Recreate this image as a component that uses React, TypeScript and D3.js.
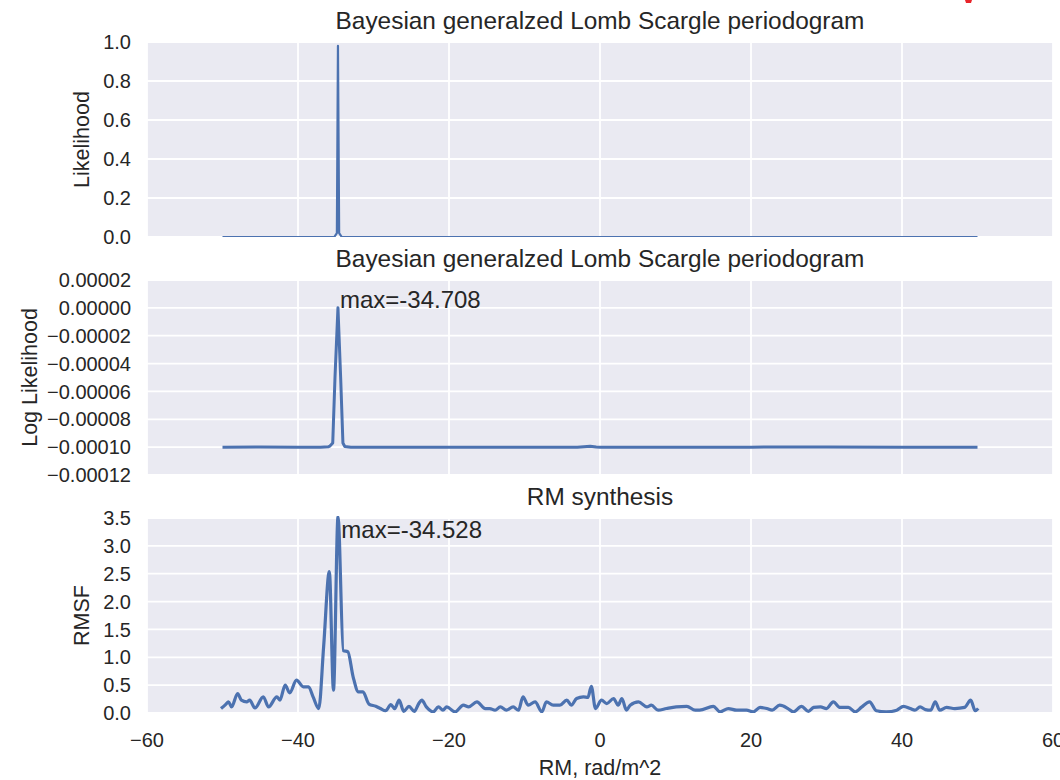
import React from "react";
import * as d3 from "d3";

// ---------- data ----------
const xTicks = [-60, -40, -20, 0, 20, 40, 60];

const likeX = [-50, -40, -36, -35.2, -34.85, -34.708, -34.55, -34.2, -30, -10, 0, 10, 30, 50];
const likeY = [0, 0, 0, 0, 0.02, 0.98, 0.02, 0, 0, 0, 0, 0, 0, 0];
const likeTicks = [0, 0.2, 0.4, 0.6, 0.8, 1.0];

const logX = [-50, -45, -40, -37, -36, -35.8, -35.4, -35.1, -34.708, -34.35, -34.05, -33.8, -33, -25, -10, -3, -1.3, -0.5, 0, 10, 20, 30, 40, 50];
const logY = [-1.0e-4, -0.9995e-4, -1.0e-4, -1.0e-4, -0.998e-4, -0.993e-4, -0.97e-4, -0.5e-4, 0, -0.5e-4, -0.97e-4, -0.995e-4, -1.0e-4, -1.0e-4, -1.0e-4, -1.0e-4, -0.993e-4, -0.999e-4, -1.0e-4, -1.0e-4, -1.0e-4, -0.999e-4, -1.0e-4, -1.0e-4];
const logTicks = [-0.00012, -0.0001, -0.00008, -0.00006, -0.00004, -0.00002, 0, 0.00002];
const logTickLabels = ["−0.00012", "−0.00010", "−0.00008", "−0.00006", "−0.00004", "−0.00002", "0.00000", "0.00002"];

const rmX = [
  -50.2, -49.6, -49.2, -48.8, -48.0, -47.5, -46.8, -46.4, -45.7, -44.6, -43.9, -42.8, -42.4, -41.7, -41.1,
  -40.2, -39.3, -38.6, -38.0, -37.25, -36.6, -35.85, -35.3, -34.7, -34.0, -33.4, -32.7, -32.0, -31.4, -30.6,
  -29.7, -29.1, -28.4, -27.7, -27.2, -26.6, -26.0, -25.3, -24.6, -24.0, -23.6, -23.0, -22.1, -21.4, -20.8,
  -20.3, -19.2, -18.1, -17.4, -16.3, -15.2, -14.6, -13.9, -13.2, -12.4, -11.5, -10.8, -10.2, -9.5, -8.6,
  -7.7, -7.1, -6.2, -5.3, -4.4, -3.8, -3.1, -2.2, -1.6, -1.15, -0.6, 0.2, 0.9, 1.8, 2.4,
  2.9, 3.5, 4.0, 5.1, 6.2, 6.8, 7.7, 8.8, 10.1, 11.5, 12.6, 13.2, 15.0, 15.9, 17.0,
  18.1, 19.4, 20.3, 21.2, 22.1, 22.8, 23.8, 24.9, 25.6, 26.7, 27.6, 28.3, 29.2, 30.0, 30.9,
  31.8, 32.9, 33.8, 34.6, 35.7, 36.6, 37.9, 39.3, 40.2, 41.1, 41.7, 42.4, 43.1, 43.8, 44.4,
  45.0, 45.9, 47.0, 48.3, 49.1, 49.7, 50.1,
];
const rmsf = [
  0.08, 0.15, 0.2, 0.11, 0.35, 0.23, 0.2, 0.23, 0.09, 0.29, 0.11, 0.29, 0.23, 0.5, 0.36,
  0.59, 0.47, 0.47, 0.29, 0.08, 1.2, 2.54, 0.41, 3.52, 1.12, 1.1, 0.65, 0.38, 0.38, 0.16,
  0.12, 0.08, 0.04, 0.15, 0.08, 0.23, 0.03, 0.12, 0.03, 0.17, 0.23, 0.11, 0.02, 0.11, 0.05,
  0.11, 0.02, 0.14, 0.11, 0.2, 0.08, 0.08, 0.05, 0.11, 0.05, 0.11, 0.05, 0.29, 0.14, 0.2,
  0.02, 0.2, 0.14, 0.14, 0.23, 0.14, 0.26, 0.29, 0.28, 0.48, 0.08, 0.23, 0.17, 0.26, 0.14,
  0.26, 0.05, 0.14, 0.2, 0.11, 0.14, 0.05, 0.08, 0.11, 0.12, 0.05, 0.05, 0.12, 0.02, 0.08,
  0.05, 0.05, 0.02, 0.1, 0.08, 0.05, 0.14, 0.08, 0.02, 0.12, 0.03, 0.1, 0.11, 0.08, 0.2,
  0.1, 0.1, 0.02, 0.1, 0.2, 0.04, 0.02, 0.05, 0.12, 0.08, 0.05, 0.11, 0.06, 0.05, 0.2,
  0.05, 0.1, 0.08, 0.1, 0.23, 0.04, 0.08,
];
const rmTicks = [0, 0.5, 1.0, 1.5, 2.0, 2.5, 3.0, 3.5];

const titles = [
  "Bayesian generalzed Lomb Scargle periodogram",
  "Bayesian generalzed Lomb Scargle periodogram",
  "RM synthesis",
];
const yLabels = ["Likelihood", "Log Likelihood", "RMSF"];
const xLabel = "RM, rad/m^2";
const annot2 = { x: -34.708, y: 0, text: "max=-34.708" };
const annot3 = { x: -34.528, y: 3.15, text: "max=-34.528" };

// ---------- layout ----------
const W = 1060, H = 780;
const L = 147, R = 1053;
const panels = [
  { top: 42, bottom: 237 },
  { top: 280, bottom: 475 },
  { top: 518, bottom: 713 },
];
const BG = "#EAEAF2";
const LINE = "#4C72B0";
const TXT = "#262626";
const FONT = "'Liberation Sans', Arial, sans-serif";

const x = d3.scaleLinear().domain([-60, 60]).range([L, R]);

function fmt1(v: number) {
  return v.toFixed(1);
}

type PanelProps = {
  idx: number;
  xs: number[];
  ys: number[];
  domain: [number, number];
  ticks: number[];
  tickLabels: string[];
  lw: number;
  labelX: number;
  smooth?: boolean;
  annot?: { x: number; y: number; text: string };
};

function Panel({ idx, xs, ys, domain, ticks, tickLabels, lw, labelX, smooth, annot }: PanelProps) {
  const p = panels[idx];
  const y = d3.scaleLinear().domain(domain).range([p.bottom, p.top]);
  const line = d3
    .line<number>()
    .x((_, i) => x(xs[i]))
    .y((d) => y(d))
    .curve(smooth ? d3.curveMonotoneX : d3.curveLinear);
  const clipId = `clip${idx}`;
  return (
    <g>
      <defs>
        <clipPath id={clipId}>
          <rect x={L} y={p.top - 2} width={R - L} height={p.bottom - p.top + 2} />
        </clipPath>
      </defs>
      <rect x={L} y={p.top} width={R - L} height={p.bottom - p.top} fill={BG} />
      {xTicks.map((t) => (
        <line key={"gx" + t} x1={x(t)} x2={x(t)} y1={p.top} y2={p.bottom} stroke="#fff" strokeWidth={1.8} />
      ))}
      {ticks.map((t) => (
        <line key={"gy" + t} x1={L} x2={R} y1={y(t)} y2={y(t)} stroke="#fff" strokeWidth={1.8} />
      ))}
      <path d={line(ys) || ""} fill="none" stroke={LINE} strokeWidth={lw} strokeLinejoin="round" clipPath={`url(#${clipId})`} />
      {ticks.map((t, i) => (
        <text key={"ty" + t} x={131} y={y(t)} dy="0.36em" textAnchor="end" fontSize={20} fill={TXT} fontFamily={FONT}>
          {tickLabels[i]}
        </text>
      ))}
      <text x={(L + R) / 2} y={p.top - 13} textAnchor="middle" fontSize={24.4} fill={TXT} fontFamily={FONT}>
        {titles[idx]}
      </text>
      <text
        transform={`translate(${labelX},${(p.top + p.bottom) / 2}) rotate(-90)`}
        textAnchor="middle"
        fontSize={21.5}
        fill={TXT}
        fontFamily={FONT}
      >
        {yLabels[idx]}
      </text>
      {annot && (
        <text x={x(annot.x) + 2} y={y(annot.y)} fontSize={24} fill={TXT} fontFamily={FONT}>
          {annot.text}
        </text>
      )}
    </g>
  );
}

export default function App() {
  return (
    <svg
      width={W}
      height={H}
      style={{ position: "absolute", left: 0, top: 0, background: "#fff" }}
      xmlns="http://www.w3.org/2000/svg"
    >
      <rect width={W} height={H} fill="#fff" />
      <path d="M965,0 L972,0 L971,3 L966,3 Z" fill="#e8242a" />
      <Panel
        idx={0}
        xs={likeX}
        ys={likeY}
        domain={[0, 1]}
        ticks={likeTicks}
        tickLabels={likeTicks.map(fmt1)}
        lw={2.2}
        labelX={89}
      />
      <Panel
        idx={1}
        xs={logX}
        ys={logY}
        domain={[-0.00012, 0.00002]}
        ticks={logTicks}
        tickLabels={logTickLabels}
        lw={3}
        labelX={37}
        annot={annot2}
      />
      <Panel
        idx={2}
        xs={rmX}
        ys={rmsf}
        domain={[0, 3.5]}
        ticks={rmTicks}
        tickLabels={rmTicks.map(fmt1)}
        lw={3.2}
        labelX={89}
        smooth
        annot={annot3}
      />
      {xTicks.map((t) => (
        <text key={"tx" + t} x={x(t)} y={747} textAnchor="middle" fontSize={20} fill={TXT} fontFamily={FONT}>
          {t < 0 ? "−" + Math.abs(t) : String(t)}
        </text>
      ))}
      <text x={(L + R) / 2} y={775} textAnchor="middle" fontSize={21.5} fill={TXT} fontFamily={FONT}>
        {xLabel}
      </text>
    </svg>
  );
}
